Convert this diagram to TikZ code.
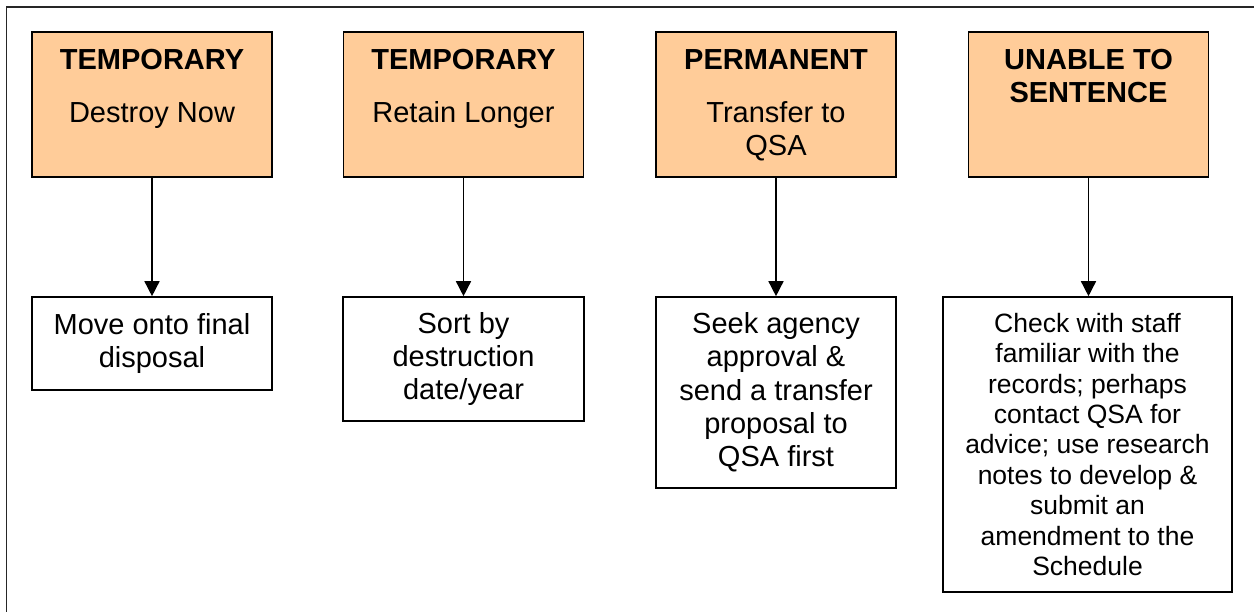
\documentclass[tikz,border=0pt]{standalone}
\usepackage{fontspec}
\setmainfont{Liberation Sans}
\usetikzlibrary{arrows.meta}
\definecolor{peach}{HTML}{FFCC99}
\begin{document}
\begin{tikzpicture}[x=1pt,y=1pt,
  topbox/.style={draw=black,line width=1.6pt,fill=peach,minimum width=240pt,minimum height=145pt,inner sep=0pt},
  lowbox/.style={draw=black,line width=1.6pt,fill=white,align=center,inner sep=0pt,font=\fontsize{29}{33.3}\selectfont},
  smalltext/.style={font=\fontsize{26.5}{30.4}\selectfont},
  ttl/.style={anchor=base,inner sep=0pt,font=\fontsize{29}{33.3}\selectfont\bfseries},
  sub/.style={anchor=base,inner sep=0pt,font=\fontsize{29}{33.3}\selectfont},
  conn/.style={line width=1.5pt,-{Triangle[width=15pt,length=15pt]}}
]
\useasboundingbox (0,0) rectangle (1254,-612);
\draw[line width=1.8pt,draw=black!85] (1254,-7) -- (6.5,-7) -- (6.5,-612);

% top boxes
\node[topbox] (t1) at (152,-104.5) {};
\node[topbox] (t2) at (463.5,-104.5) {};
\node[topbox] (t3) at (776,-104.5) {};
\node[topbox] (t4) at (1088.5,-104.5) {};

\node[ttl] (t1a) at (152,-70) {TEMPORARY};
\node[sub] (t1b) at (152,-123) {Destroy Now};
\node[ttl] (t2a) at (463.5,-70) {TEMPORARY};
\node[sub] (t2b) at (463.5,-123) {Retain Longer};
\node[ttl] (t3a) at (776,-70) {PERMANENT};
\node[sub] (t3b) at (776,-123) {Transfer to};
\node[sub] (t3c) at (776,-156) {QSA};
\node[ttl] (t4a) at (1088.5,-70) {UNABLE TO};
\node[ttl] (t4b) at (1088.5,-103) {SENTENCE};

% lower boxes
\node[lowbox,minimum width=240pt,minimum height=93pt] (l1) at (152,-343.5)
  {Move onto final\\disposal};
\node[lowbox,minimum width=241pt,minimum height=124pt] (l2) at (463.5,-359)
  {Sort by\\destruction\\date/year};
\node[lowbox,minimum width=240pt,minimum height=191pt] (l3) at (776,-392.5)
  {Seek agency\\approval \&\\send a transfer\\proposal to\\QSA first};
\node[lowbox,smalltext,minimum width=289pt,minimum height=295pt] (l4) at (1087.5,-444.5)
  {Check with staff\\familiar with the\\records; perhaps\\contact QSA for\\advice; use research\\notes to develop \&\\submit an\\amendment to the\\Schedule};

% connectors
\draw[conn] (t1.south) -- (l1.north);
\draw[conn] (t2.south) -- (l2.north);
\draw[conn] (t3.south) -- (l3.north);
\draw[conn] (t4.south) -- (t4.south |- l4.north);
\end{tikzpicture}
\end{document}
